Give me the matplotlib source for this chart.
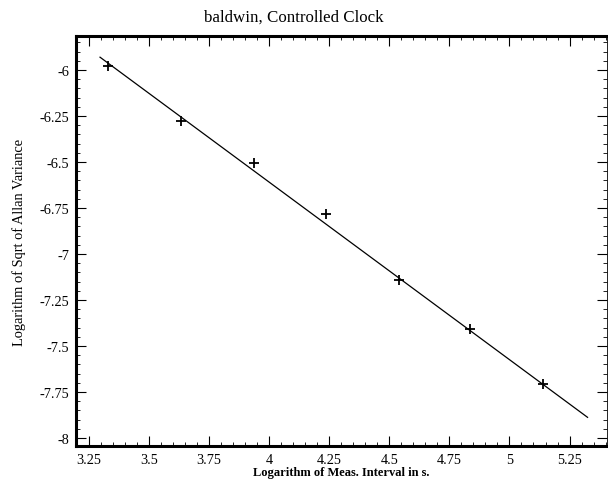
import matplotlib.pyplot as plt
from matplotlib.ticker import MultipleLocator

# измеренные точки (логарифмы)
log_interval = [3.328, 3.631, 3.935, 4.236, 4.539, 4.834, 5.138]
log_allan = [-5.98, -6.275, -6.505, -6.785, -7.14, -7.41, -7.705]

# линия аппроксимации
fit_x = [3.296, 5.325]
fit_y = [-5.93, -7.888]

x_ticks = [3.25, 3.5, 3.75, 4, 4.25, 4.5, 4.75, 5, 5.25]
x_labels = ['3.25', '3.5', '3.75', '4', '4.25', '4.5', '4.75', '5', '5.25']
y_ticks = [-6, -6.25, -6.5, -6.75, -7, -7.25, -7.5, -7.75, -8]
y_labels = ['-6', '-6.25', '-6.5', '-6.75', '-7', '-7.25', '-7.5', '-7.75', '-8']

plt.rcParams['font.family'] = ['Liberation Serif', 'DejaVu Serif']

fig = plt.figure(figsize=(6.08, 4.81), dpi=100)
ax = fig.add_axes([0.125, 0.071, 0.873, 0.852])

ax.plot(fit_x, fit_y, color='black', linewidth=0.9)
ax.plot(log_interval, log_allan, linestyle='none', marker='+', color='black',
        markersize=7, markeredgewidth=1.3)

ax.set_xlim(3.196, 5.405)
ax.set_ylim(-8.043, -5.815)

ax.set_xticks(x_ticks)
ax.set_xticklabels(x_labels)
ax.set_yticks(y_ticks)
ax.set_yticklabels(y_labels)
ax.xaxis.set_minor_locator(MultipleLocator(0.05))
ax.yaxis.set_minor_locator(MultipleLocator(0.05))

ax.tick_params(which='both', direction='in', top=True, right=True,
               labelsize=10.3, pad=5)
ax.tick_params(which='major', length=7, width=0.8)
ax.tick_params(which='minor', length=3, width=0.6)

for side in ['left', 'bottom', 'top']:
    ax.spines[side].set_linewidth(2.2)
ax.spines['right'].set_linewidth(0.6)

# заголовок смещён влево относительно центра осей, как в оригинале
ax.set_title('baldwin, Controlled Clock', fontsize=12.2, pad=11, x=0.41)
ax.set_xlabel('Logarithm of Meas. Interval in s.', fontsize=9, fontweight='bold', labelpad=0)
ax.set_ylabel('Logarithm of Sqrt of Allan Variance', fontsize=10.4, labelpad=10)

plt.savefig('out.png', dpi=100)
